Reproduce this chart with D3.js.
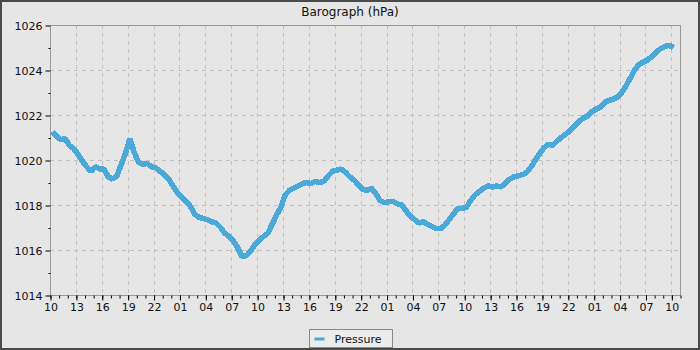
<html>
<head>
<script src="https://d3js.org/d3.v7.min.js"></script>
<style>
  body { margin: 0; background: #e6e6e6; }
  text { font-family: "DejaVu Sans", sans-serif; fill: #111; }
</style>
</head>
<body>
<svg id="svg" width="700" height="350"></svg>
<script>
// DATA
const chartTitle = "Barograph (hPa)"
const seriesName = "Pressure"
const firstSample = new Date(2024, 0, 1, 10, 15) // first reading
const sampleMinutes = 30
// half-hourly readings, hPa
const pressure = [
  1021.25, 1021.05, 1020.9, 1020.95, 1020.65, 1020.5, 1020.25, 1019.95, 1019.7, 1019.5,
  1019.7, 1019.6, 1019.6, 1019.25, 1019.15, 1019.3, 1019.8, 1020.3, 1020.95, 1020.35,
  1019.9, 1019.8, 1019.85, 1019.7, 1019.65, 1019.5, 1019.35, 1019.15, 1018.85, 1018.55,
  1018.35, 1018.15, 1017.95, 1017.6, 1017.45, 1017.4, 1017.35, 1017.25, 1017.2, 1017.0,
  1016.75, 1016.6, 1016.4, 1016.1, 1015.7, 1015.75, 1015.95, 1016.25, 1016.45, 1016.6,
  1016.75, 1017.15, 1017.55, 1017.9, 1018.45, 1018.65, 1018.75, 1018.85, 1018.95, 1019.0,
  1018.95, 1019.05, 1019.0, 1019.05, 1019.3, 1019.5, 1019.55, 1019.6, 1019.45, 1019.25,
  1019.1, 1018.9, 1018.7, 1018.65, 1018.75, 1018.5, 1018.2, 1018.1, 1018.15, 1018.15,
  1018.05, 1018.0, 1017.75, 1017.5, 1017.35, 1017.2, 1017.25, 1017.15, 1017.05, 1016.95,
  1016.95, 1017.1, 1017.35, 1017.6, 1017.85, 1017.85, 1017.9, 1018.2, 1018.45, 1018.6,
  1018.75, 1018.85, 1018.8, 1018.85, 1018.8, 1018.95, 1019.15, 1019.25, 1019.3, 1019.35,
  1019.45, 1019.7, 1020.0, 1020.3, 1020.55, 1020.7, 1020.65, 1020.85, 1021.0, 1021.15,
  1021.3, 1021.5, 1021.7, 1021.85, 1021.95, 1022.15, 1022.25, 1022.35, 1022.55, 1022.65,
  1022.7, 1022.8, 1023.0, 1023.3, 1023.65, 1024.0, 1024.25, 1024.35, 1024.45, 1024.6,
  1024.8, 1024.95, 1025.05, 1025.1, 1025.0
]
const yTicks = [1014, 1016, 1018, 1020, 1022, 1024, 1026]
const yMinorTicks = [1015, 1017, 1019, 1021, 1023, 1025]
const axisStart = new Date(2024, 0, 1, 10, 0)
const axisEnd = new Date(2024, 0, 4, 11, 0)

// LAYOUT
const margin = { left: 50, right: 20, top: 25, bottom: 55 }
const W = 700, H = 350
const lineColor = "#4ba9d9"

const data = pressure.map((v, i) => ({
  t: new Date(firstSample.getTime() + i * sampleMinutes * 60000),
  v: v
}))

const svg = d3.select("#svg")

svg.append("rect")
  .attr("x", 1).attr("y", 1).attr("width", W - 2).attr("height", H - 2)
  .attr("fill", "#e6e6e6").attr("stroke", "#4a4a4a").attr("stroke-width", 2)

const x = d3.scaleTime().domain([axisStart, axisEnd]).range([margin.left, W - margin.right])
const y = d3.scaleLinear().domain([1014, 1026]).range([H - margin.bottom, margin.top])

const majorX = d3.timeHour.range(axisStart, new Date(axisEnd.getTime() + 1), 3)
const minorX = d3.timeHour.range(axisStart, new Date(axisEnd.getTime() + 1))

// grid
const grid = svg.append("g")
  .attr("stroke", "#c0c0c0").attr("stroke-dasharray", "4,4").attr("stroke-width", 1)
grid.selectAll(".gx").data(majorX.slice(1)).enter().append("line")
  .attr("x1", d => Math.round(x(d)) + 0.5).attr("x2", d => Math.round(x(d)) + 0.5)
  .attr("y1", y(1026)).attr("y2", y(1014))
grid.selectAll(".gy").data(yTicks.slice(1, -1)).enter().append("line")
  .attr("x1", x(axisStart)).attr("x2", x(axisEnd))
  .attr("y1", d => Math.round(y(d)) + 0.5).attr("y2", d => Math.round(y(d)) + 0.5)

// series
const line = d3.line()
  .x(d => x(d.t))
  .y(d => y(d.v))

svg.append("path")
  .datum(data)
  .attr("fill", "none")
  .attr("stroke", lineColor)
  .attr("stroke-width", 5.5)
  .attr("stroke-linejoin", "bevel")
  .attr("shape-rendering", "crispEdges")
  .attr("d", line)

// plot border
svg.append("rect")
  .attr("x", margin.left + 0.5).attr("y", margin.top + 0.5)
  .attr("width", W - margin.left - margin.right).attr("height", H - margin.top - margin.bottom)
  .attr("fill", "none").attr("stroke", "#999")

// y axis
const yAxis = d3.axisLeft(y).tickValues(yTicks).tickSize(5).tickPadding(3)
  .tickFormat(d3.format("d"))
const gy = svg.append("g").attr("transform", `translate(${margin.left + 0.5},0.5)`).call(yAxis)
gy.select(".domain").remove()
gy.selectAll("text").style("font-size", "11px")
const gym = svg.append("g").attr("transform", `translate(${margin.left + 0.5},0.5)`)
  .call(d3.axisLeft(y).tickValues(yMinorTicks).tickSize(2).tickFormat(""))
gym.select(".domain").remove()

// x axis
const xAxis = d3.axisBottom(x).tickValues(majorX).tickSize(5).tickPadding(3)
  .tickFormat(d3.timeFormat("%H"))
const gx = svg.append("g").attr("transform", `translate(0.5,${H - margin.bottom + 0.5})`).call(xAxis)
gx.select(".domain").remove()
gx.selectAll("text").style("font-size", "11px")
const gxm = svg.append("g").attr("transform", `translate(0.5,${H - margin.bottom + 0.5})`)
  .call(d3.axisBottom(x).tickValues(minorX).tickSize(3).tickFormat(""))
gxm.select(".domain").remove()

// title
svg.append("text")
  .attr("x", W / 2).attr("y", 16)
  .attr("text-anchor", "middle")
  .style("font-size", "12px")
  .text(chartTitle)

// legend
const lg = svg.append("g").attr("transform", "translate(309.5,329.5)")
lg.append("rect").attr("width", 83).attr("height", 18)
  .attr("fill", "#ececec").attr("stroke", "#888")
lg.append("line").attr("x1", 5).attr("x2", 15).attr("y1", 9.5).attr("y2", 9.5)
  .attr("stroke", lineColor).attr("stroke-width", 3)
lg.append("text").attr("x", 25).attr("y", 13).style("font-size", "11px").text(seriesName)
</script>
</body>
</html>
